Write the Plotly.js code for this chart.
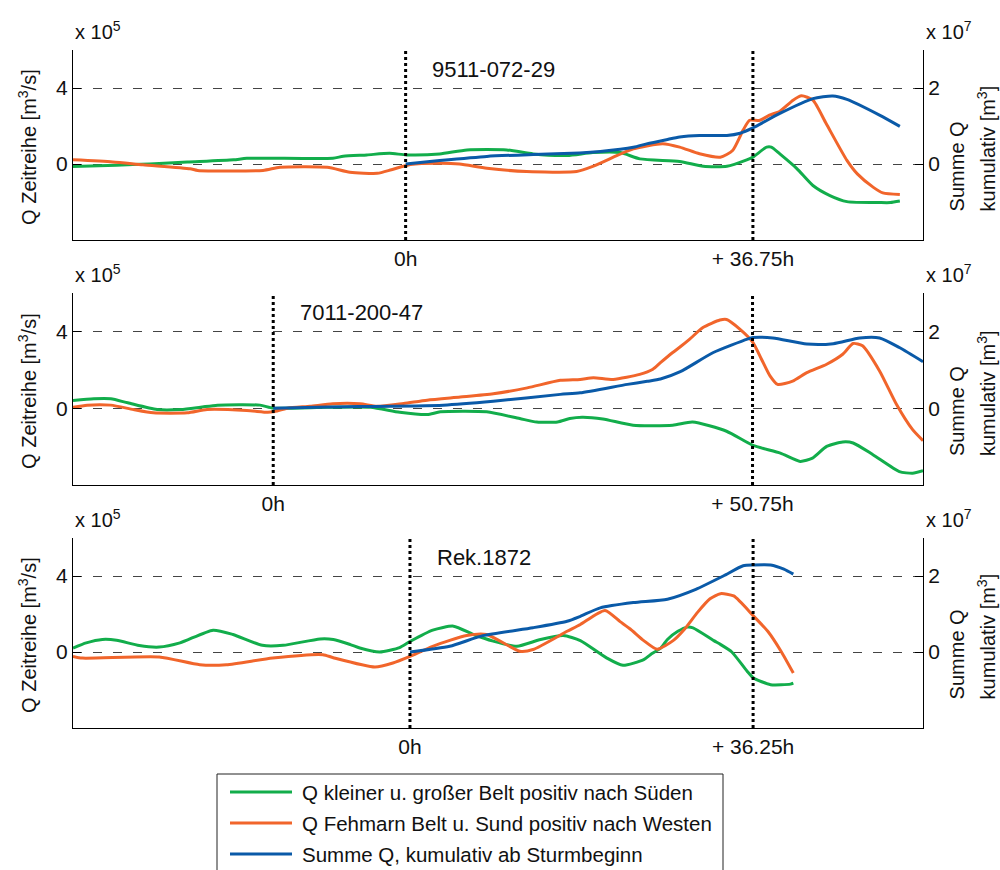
<!DOCTYPE html>
<html>
<head>
<meta charset="utf-8">
<script src="https://cdn.plot.ly/plotly-3.0.1.min.js"></script>
<style>html,body{margin:0;padding:0;background:#fff;}#chart{width:1000px;height:870px;}</style>
</head>
<body>
<div id="chart"></div>
<script>
// ---------- DATA (hours relative to storm start; Q in 1e5 m^3/s; Summe in 1e7 m^3) ----------
const seriesNames = [
  'Q kleiner u. gro\u00DFer Belt positiv nach S\u00FCden',
  'Q Fehmarn Belt u. Sund positiv nach Westen',
  'Summe Q, kumulativ ab Sturmbeginn'
];
const panelNames = ['9511-072-29', '7011-200-47', 'Rek.1872'];
const markerHours = [36.75, 50.75, 36.25];
const markerLabels = ['+ 36.75h', '+ 50.75h', '+ 36.25h'];
const startLabel = '0h';
const leftTicks = [0, 4];
const rightTicks = [0, 2];

// Panel 1: 9511-072-29
const p1GreenH = [-35.2,-30.6,-27.1,-23.1,-18.2,-16.8,-7.7,-6.6,-4.1,-1.7,0.1,3.6,6.5,10.7,13.5,17.1,19.8,22.7,24.8,29.0,31.5,34.0,36.1,36.75,38.2,38.7,39.6,41.4,43.1,44.9,46.7,50.2,51.3,52.3];
const p1GreenQ = [-0.13,-0.06,0,0.1,0.22,0.3,0.3,0.41,0.48,0.56,0.48,0.53,0.74,0.74,0.53,0.45,0.6,0.6,0.27,0.13,-0.12,-0.12,0.22,0.36,0.89,0.89,0.53,-0.24,-1.13,-1.66,-1.98,-2.03,-2.03,-1.95];
const p1OrangeH = [-35.2,-31.0,-27.8,-22.8,-22.0,-15.1,-13.3,-8.3,-5.9,-3.0,-1.5,0.5,3.6,5.7,8.6,12.8,18.1,19.8,22.4,24.1,27.2,29.0,31.1,33.3,34.6,35.7,36.4,37.5,38.5,39.6,41.0,41.9,43.1,44.5,46.7,47.8,49.5,50.5,52.3];
const p1OrangeQ = [0.22,0.11,-0.04,-0.25,-0.34,-0.34,-0.17,-0.17,-0.43,-0.49,-0.3,-0.03,0.04,0,-0.22,-0.4,-0.4,-0.13,0.45,0.8,1.07,0.89,0.54,0.36,0.71,1.77,2.3,2.3,2.57,2.78,3.36,3.59,3.36,2.13,0.19,-0.52,-1.23,-1.52,-1.61];
const p1BlueH = [0,3.6,8.6,13.5,18.4,20.6,24.1,25.5,27.6,29.0,31.1,34.0,35.4,36.75,39.6,43.1,45.2,46.7,50.2,52.3];
const p1BlueS = [0,0.09,0.2,0.25,0.29,0.33,0.44,0.53,0.64,0.71,0.75,0.75,0.81,0.95,1.33,1.72,1.79,1.7,1.28,0.99];

// Panel 2: 7011-200-47
const p2GreenH = [-21.2,-19.0,-17.2,-15.4,-12.3,-9.8,-7.7,-5.9,-1.4,0,5.7,10.3,13.4,16.3,17.7,22.6,26.1,27.9,30.1,31.4,32.7,34.9,38.1,42.3,44.4,48.0,50.8,53.7,55.8,57.1,58.6,60.3,61.4,63.5,66.3,67.7,68.8];
const p2GreenQ = [0.4,0.49,0.49,0.28,-0.07,-0.07,0.05,0.16,0.16,0,0.05,0.05,-0.21,-0.33,-0.19,-0.19,-0.54,-0.72,-0.72,-0.54,-0.47,-0.56,-0.89,-0.89,-0.72,-1.2,-1.94,-2.34,-2.77,-2.6,-1.99,-1.76,-1.81,-2.42,-3.3,-3.39,-3.26];
const p2OrangeH = [-21.2,-19.7,-17.2,-14.8,-12.7,-9.1,-7.0,-2.8,-0.6,0,1.5,3.9,6.3,9.2,11.0,13.8,16.3,19.8,23.3,26.9,30.4,32.5,33.9,36.0,38.8,40.2,41.0,42.3,43.1,44.1,45.5,47.3,48.0,49.4,50.8,51.7,52.6,53.4,55.0,56.5,58.6,60.3,61.4,62.4,64.2,66.0,67.7,68.8];
const p2OrangeQ = [0.05,0.16,0.16,-0.07,-0.24,-0.24,-0.07,-0.12,-0.21,-0.19,0,0.1,0.23,0.23,0.1,0.25,0.42,0.58,0.75,1.06,1.45,1.5,1.59,1.5,1.76,2.03,2.37,2.9,3.2,3.6,4.2,4.59,4.62,4.12,3.42,2.55,1.68,1.24,1.41,1.85,2.29,2.81,3.37,3.25,1.94,0.19,-1.12,-1.69];
const p2BlueH = [0,5.7,18.0,23.3,30.4,32.5,37.5,39.6,41.0,43.1,46.6,50.2,50.8,52.9,56.5,59.3,62.1,64.2,66.3,68.8];
const p2BlueS = [0,0.03,0.08,0.18,0.36,0.4,0.62,0.7,0.76,0.95,1.45,1.8,1.84,1.83,1.67,1.68,1.83,1.83,1.58,1.21];

// Panel 3: Rek.1872
const p3GreenH = [-35.6,-34.2,-32.5,-31.0,-28.6,-26.5,-24.3,-20.8,-18.7,-15.6,-13.4,-9.5,-8.1,-6.3,-5.3,-3.2,-1.1,0,2.4,4.6,6.7,8.8,11.3,13.8,16.2,18.0,20.8,22.5,24.7,25.4,26.5,27.2,28.3,29.3,29.9,32.1,32.8,34.0,35.6,36.3,38.1,40.2,40.5];
const p3GreenQ = [0.21,0.48,0.66,0.62,0.34,0.26,0.48,1.15,0.92,0.35,0.35,0.69,0.66,0.39,0.21,0,0.23,0.55,1.15,1.36,0.92,0.57,0.3,0.66,0.87,0.6,-0.32,-0.7,-0.4,-0.14,0.21,0.66,1.09,1.31,1.27,0.6,0.4,0.0,-1.0,-1.37,-1.72,-1.69,-1.64];
const p3OrangeH = [-35.6,-34.6,-26.5,-22.2,-19.4,-14.5,-9.2,-8.1,-3.7,-1.8,0,2.4,6.0,8.1,11.6,13.0,16.6,18.0,20.6,22.2,23.3,24.7,26.1,27.8,29.0,30.4,31.7,32.8,34.2,36.3,37.8,39.2,40.5];
const p3OrangeQ = [-0.23,-0.32,-0.26,-0.67,-0.67,-0.32,-0.14,-0.3,-0.79,-0.58,-0.23,0.3,0.87,0.92,0.04,0.13,1.09,1.45,2.19,1.6,1.2,0.6,0.15,0.6,1.2,2.1,2.8,3.07,2.95,1.89,1.09,0.04,-1.11];
const p3BlueH = [0,4.2,7.7,13.0,16.6,18.0,20.1,23.6,27.2,30.2,33.1,35.2,36.3,38.1,39.5,40.5];
const p3BlueS = [0,0.15,0.43,0.64,0.81,0.94,1.16,1.3,1.39,1.65,2.0,2.27,2.29,2.29,2.18,2.05];

// ---------- STYLE / LAYOUT ----------
const FONT = 'Liberation Sans, Arial, Helvetica, sans-serif';
const colors = ['#12AD4B', '#F1652B', '#0A5AA8'];
const W = 1000, H = 870;
const M = {l: 73, r: 77, t: 50, b: 142};
const plotW = W - M.l - M.r, plotH = H - M.t - M.b;
const px2x = px => (px - M.l) / plotW;
const px2y = py => (H - M.b - py) / plotH;
const panelPx = [[50, 240], [293, 485], [538, 728]];
const xRanges = [[-35.2, 54.75], [-21.2, 68.8], [-35.6, 54.2]];
const leftRange = [-4, 6], rightRange = [-2, 3];

const panels = [
  {g: [p1GreenH, p1GreenQ], o: [p1OrangeH, p1OrangeQ], b: [p1BlueH, p1BlueS]},
  {g: [p2GreenH, p2GreenQ], o: [p2OrangeH, p2OrangeQ], b: [p2BlueH, p2BlueS]},
  {g: [p3GreenH, p3GreenQ], o: [p3OrangeH, p3OrangeQ], b: [p3BlueH, p3BlueS]}
];

const traces = [];
const layout = {
  width: W, height: H,
  margin: M,
  paper_bgcolor: '#fff', plot_bgcolor: '#fff',
  showlegend: false,
  font: {family: FONT, size: 19, color: '#111'},
  shapes: [], annotations: []
};
const lineStyle = c => ({color: c, width: 3, shape: 'spline', smoothing: 0.6});

panels.forEach((p, i) => {
  const xa = i === 0 ? 'x' : 'x' + (i + 1);
  const yl = i === 0 ? 'y' : 'y' + (2 * i + 1);
  const yr = 'y' + (2 * i + 2);
  const xKey = i === 0 ? 'xaxis' : 'xaxis' + (i + 1);
  const ylKey = i === 0 ? 'yaxis' : 'yaxis' + (2 * i + 1);
  const yrKey = 'yaxis' + (2 * i + 2);
  const dom = [px2y(panelPx[i][1]), px2y(panelPx[i][0])];

  layout[xKey] = {
    domain: [0, 1], anchor: yl, range: xRanges[i],
    tickmode: 'array', tickvals: [0, markerHours[i]], ticktext: [startLabel, markerLabels[i]],
    ticks: '', showgrid: false, zeroline: false,
    showline: true, linecolor: '#000', linewidth: 1,
    tickfont: {family: FONT, size: 21, color: '#111'}
  };
  layout[ylKey] = {
    domain: dom, anchor: xa, range: leftRange,
    tickmode: 'array', tickvals: leftTicks, ticks: 'inside', ticklen: 8, tickcolor: '#000', tickwidth: 1,
    showgrid: true, gridcolor: '#444', gridwidth: 1, griddash: '9px,11px',
    zeroline: false, showline: true, linecolor: '#000', linewidth: 1,
    tickfont: {family: FONT, size: 21, color: '#111'}
  };
  layout[yrKey] = {
    overlaying: yl, side: 'right', anchor: xa, range: rightRange,
    tickmode: 'array', tickvals: rightTicks, ticks: 'inside', ticklen: 8, tickcolor: '#000', tickwidth: 1,
    showgrid: false, zeroline: false, showline: true, linecolor: '#000', linewidth: 1,
    tickfont: {family: FONT, size: 21, color: '#111'}
  };

  traces.push({x: p.g[0], y: p.g[1], xaxis: xa, yaxis: yl, mode: 'lines', name: seriesNames[0],
    line: lineStyle(colors[0])});
  traces.push({x: p.o[0], y: p.o[1], xaxis: xa, yaxis: yl, mode: 'lines', name: seriesNames[1],
    line: lineStyle(colors[1])});
  traces.push({x: p.b[0], y: p.b[1], xaxis: xa, yaxis: yr, mode: 'lines', name: seriesNames[2],
    line: lineStyle(colors[2])});

  // dotted vertical markers
  [0, markerHours[i]].forEach(h => {
    layout.shapes.push({type: 'line', xref: xa, yref: yl + ' domain', x0: h, x1: h, y0: 0, y1: 1,
      line: {color: '#000', width: 3, dash: 'dot'}, layer: 'above'});
  });

  // exponent labels
  layout.annotations.push({xref: 'paper', yref: yl + ' domain', x: 0, y: 1, xanchor: 'left', yanchor: 'bottom',
    yshift: 5, showarrow: false, text: 'x 10<sup>5</sup>', font: {family: FONT, size: 20, color: '#111'}});
  layout.annotations.push({xref: 'paper', yref: yl + ' domain', x: 1, y: 1, xanchor: 'left', yanchor: 'bottom',
    xshift: 1, yshift: 5, showarrow: false, text: 'x 10<sup>7</sup>', font: {family: FONT, size: 20, color: '#111'}});
  // axis titles
  layout.annotations.push({xref: 'paper', yref: yl + ' domain', x: 0, y: 0.49, xanchor: 'center', yanchor: 'middle',
    xshift: -45, textangle: -90, showarrow: false, text: 'Q Zeitreihe [m<sup>3</sup>/s]',
    font: {family: FONT, size: 20, color: '#111'}});
  layout.annotations.push({xref: 'paper', yref: yl + ' domain', x: 1, y: 0.14, xanchor: 'center', yanchor: 'bottom',
    xshift: 34, textangle: -90, showarrow: false, text: 'Summe Q',
    font: {family: FONT, size: 20, color: '#111'}});
  layout.annotations.push({xref: 'paper', yref: yl + ' domain', x: 1, y: 0.14, xanchor: 'center', yanchor: 'bottom',
    xshift: 63, textangle: -90, showarrow: false, text: 'kumulativ [m<sup>3</sup>]',
    font: {family: FONT, size: 20, color: '#111'}});
  // panel name
  layout.annotations.push({xref: xa, yref: yl, x: 2.6, y: 5, xanchor: 'left', yanchor: 'middle',
    showarrow: false, text: panelNames[i], font: {family: FONT, size: 22, color: '#111'}});
});

// manual legend box
layout.shapes.push({type: 'rect', xref: 'paper', yref: 'paper',
  x0: px2x(217), x1: px2x(723), y0: px2y(774), y1: px2y(874),
  line: {color: '#222', width: 1}, fillcolor: 'rgba(0,0,0,0)'});
const legendRows = [792, 823, 854];
legendRows.forEach((py, k) => {
  layout.shapes.push({type: 'line', xref: 'paper', yref: 'paper',
    x0: px2x(230), x1: px2x(292), y0: px2y(py), y1: px2y(py),
    line: {color: colors[k], width: 3}});
  layout.annotations.push({xref: 'paper', yref: 'paper', x: px2x(300), y: px2y(py),
    xanchor: 'left', yanchor: 'middle', showarrow: false, text: seriesNames[k],
    font: {family: FONT, size: 20.5, color: '#111'}});
});

Plotly.newPlot('chart', traces, layout, {staticPlot: true, displayModeBar: false});
</script>
</body>
</html>
